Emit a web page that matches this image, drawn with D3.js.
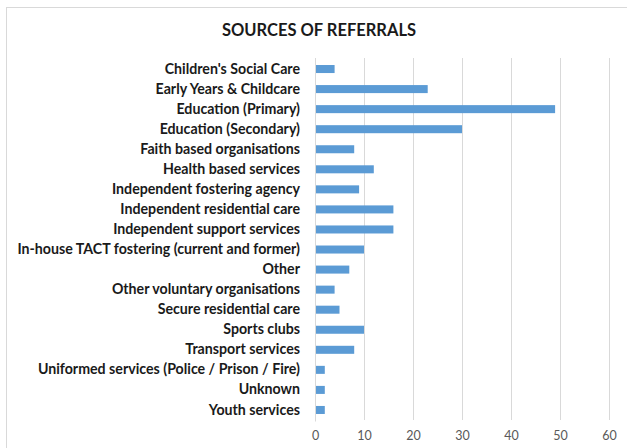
<!DOCTYPE html>
<html><head><meta charset="utf-8">
<script src="https://cdn.jsdelivr.net/npm/d3@7"></script>
<style>body{margin:0;background:#fff}svg{display:block}</style>
</head><body><svg id="c" width="627" height="448"></svg>
<script>
const categories = ["Children's Social Care","Early Years & Childcare","Education (Primary)","Education (Secondary)","Faith based organisations","Health based services","Independent fostering agency","Independent residential care","Independent support services","In-house TACT fostering (current and former)","Other","Other voluntary organisations","Secure residential care","Sports clubs","Transport services","Uniformed services (Police / Prison / Fire)","Unknown","Youth services"];
const values = [4,23,49,30,8,12,9,16,16,10,7,4,5,10,8,2,2,2];
const xTicks = [0,10,20,30,40,50,60];
const title = "SOURCES OF REFERRALS";

const svg = d3.select("#c");
const font = "Lato, 'Open Sans', sans-serif";
svg.append("rect").attr("x",6.5).attr("y",7.5).attr("width",640).attr("height",460)
  .attr("fill","#fff").attr("stroke","#d9d9d9").attr("stroke-width",1);

svg.append("text").attr("x",319).attr("y",36).attr("text-anchor","middle")
  .attr("font-family",font).attr("font-weight","bold").attr("font-size",16.5).attr("fill","#1a1a1a").text(title);

const x = d3.scaleLinear().domain([0,60]).range([315,609]);
const y = d3.scaleBand().domain(categories).range([58,421]).paddingInner(0.6).paddingOuter(0.35);

const gx = svg.append("g").attr("transform","translate(0,420)")
  .call(d3.axisBottom(x).tickValues(xTicks).tickSize(-362).tickPadding(11));
gx.select(".domain").remove();
gx.selectAll("line").attr("stroke","#d9d9d9").attr("stroke-width",1);
gx.selectAll("text").attr("font-family",font).attr("font-size",12.5).attr("fill","#595959");

svg.append("g").selectAll("rect").data(values).join("rect")
  .attr("x",x(0)).attr("y",(d,i)=>y(categories[i]))
  .attr("width",d=>x(d)-x(0)).attr("height",y.bandwidth())
  .attr("fill","#5b9bd5");

const gy = svg.append("g").attr("transform","translate("+x(0)+",0)")
  .call(d3.axisLeft(y).tickSize(0).tickPadding(15));
gy.select(".domain").attr("stroke","#d9d9d9");
gy.selectAll("text").attr("font-family",font).attr("font-weight","bold").attr("font-size",14.2).attr("fill","#1a1a1a");
</script></body></html>
